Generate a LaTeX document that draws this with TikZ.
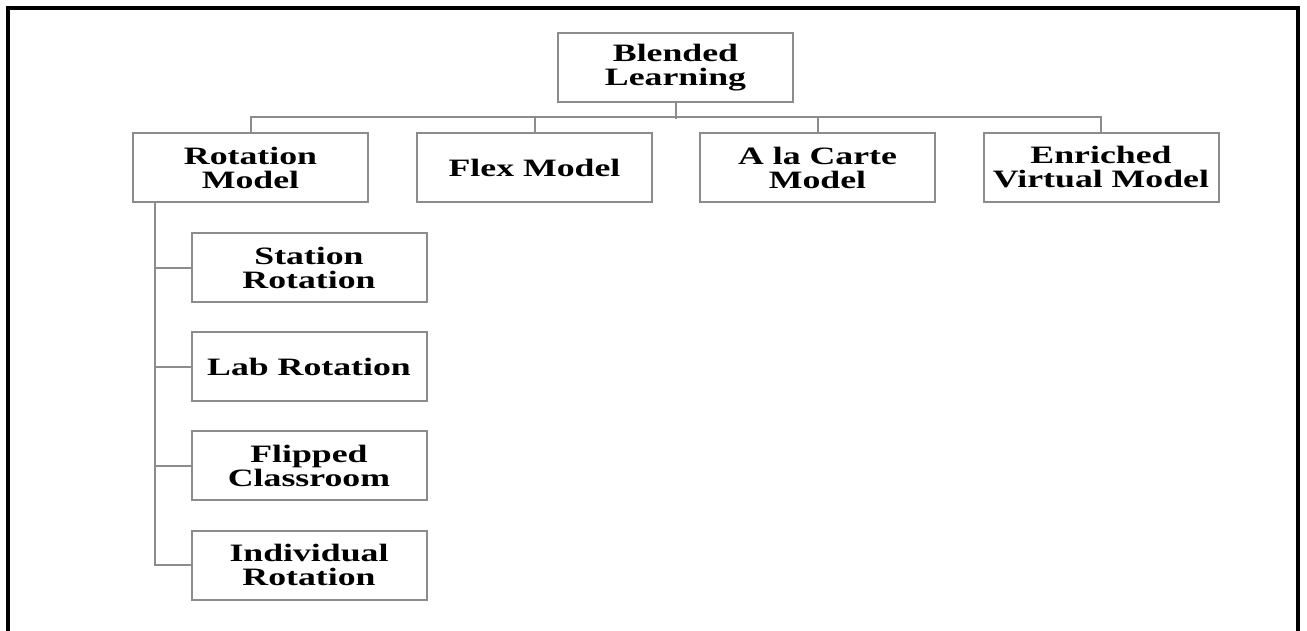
\documentclass[tikz,border=0pt]{standalone}
\usepackage{fontspec}
\setmainfont[FakeStretch=1.43]{Liberation Serif}
\usepackage{tikz}

\definecolor{boxgray}{RGB}{140,140,140}

\begin{document}
\begin{tikzpicture}[x = 1pt, y = -1pt,
  box/.style = {draw=boxgray, line width=2pt, minimum width=235pt, minimum height=69pt,
    inner sep=0pt, align=center, font=\fontsize{25}{24}\selectfont\bfseries},
  link/.style = {draw=boxgray, line width=2pt}]

\useasboundingbox (0, 0) rectangle (1307, 630);

\draw[line width=4pt] (8, 640) -- (8, 8) -- (1298, 8) -- (1298, 640);

\node[box] (bl) at (675.5, 67.5) {Blended\\Learning};

\node[box] (rot) at (250.5, 167.5) {Rotation\\Model};
\node[box] (flex) at (534.5, 167.5) {Flex Model};
\node[box] (alc) at (817.5, 167.5) {A la Carte\\Model};
\node[box] (evm) at (1101, 167.5) {Enriched\\Virtual Model};

\node[box] (sr) at (309, 267.5) {Station\\Rotation};
\node[box] (lr) at (309, 366.5) {Lab Rotation};
\node[box] (fc) at (309, 465.5) {Flipped\\Classroom};
\node[box] (ir) at (309, 565) {Individual\\Rotation};

\draw[link] (bl.south) -- ++(0, 15.5);
\draw[link] (rot.north) -- ++(0, -15) -| (evm.north);
\draw[link] (flex.north) -- ++(0, -15);
\draw[link] (alc.north) -- ++(0, -15);

\coordinate (spine) at (155, 202);
\draw[link] (spine) |- (ir.west);
\foreach \n in {sr, lr, fc}
  \draw[link] (spine |- \n.west) -- (\n.west);

\end{tikzpicture}
\end{document}
